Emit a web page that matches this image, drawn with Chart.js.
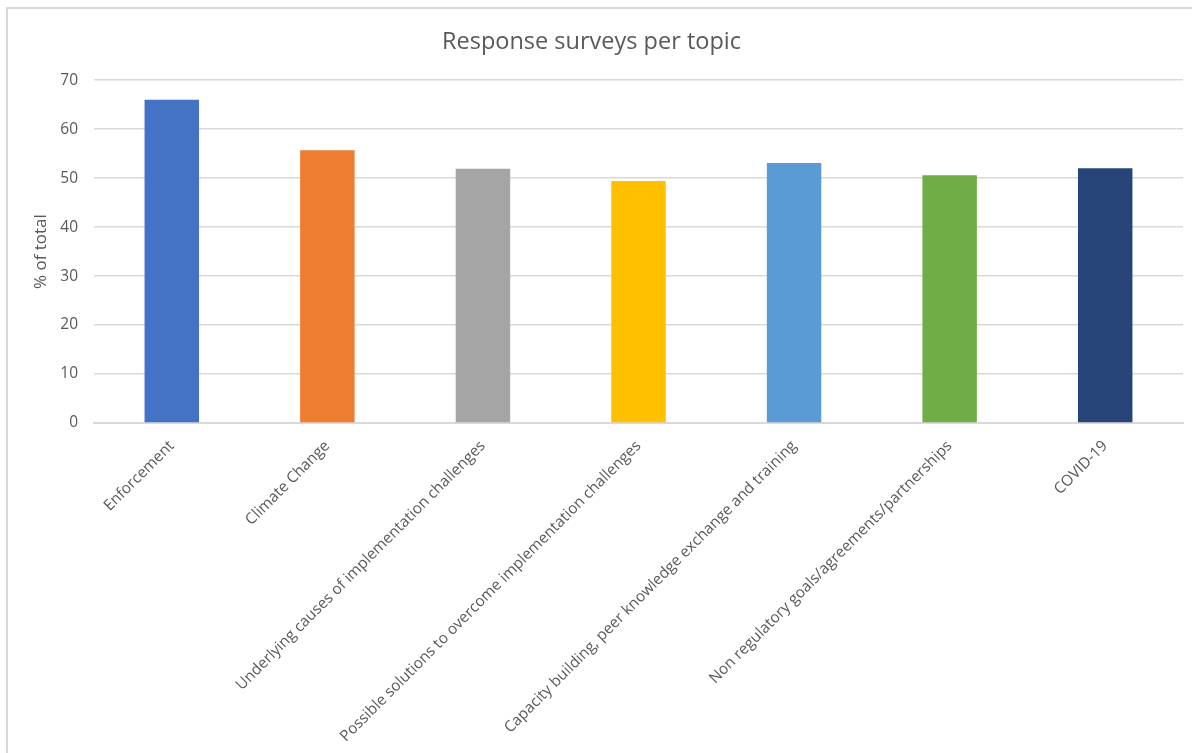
<!DOCTYPE html>
<html>
<head>
<meta charset="utf-8">
<script src="https://cdn.jsdelivr.net/npm/chart.js@4"></script>
<style>
  html, body { margin: 0; padding: 0; background: #ffffff; }
  #wrap { position: relative; width: 1192px; height: 753px; overflow: hidden; }
  #frame { position: absolute; left: 6px; top: 7px; width: 1300px; height: 900px;
           border-left: 2px solid #d9d9d9; border-top: 2px solid #d9d9d9; box-sizing: border-box; }
  canvas { position: absolute; left: 0; top: 0; }
</style>
</head>
<body>
<div id="wrap">
  <div id="frame"></div>
  <canvas id="chart" width="1192" height="753"></canvas>
</div>
<script>
// Survey topics and share of responses (% of total)
const topics = [
  "Enforcement",
  "Climate Change",
  "Underlying causes of implementation challenges",
  "Possible solutions to overcome implementation challenges",
  "Capacity building, peer knowledge exchange and training",
  "Non regulatory goals/agreements/partnerships",
  "COVID-19"
];
const shares = [66.0, 55.7, 51.9, 49.4, 53.1, 50.6, 52.0];
const barColors = ["#4472C4", "#ED7D31", "#A5A5A5", "#FFC000", "#5B9BD5", "#70AD47", "#264478"];
const yTicks = [0, 10, 20, 30, 40, 50, 60, 70];

const textColor = "#595959";
const gridColor = "#d9d9d9";
const fontFamily = "'Open Sans', 'Liberation Sans', sans-serif";

new Chart(document.getElementById("chart"), {
  type: "bar",
  data: {
    labels: topics,
    datasets: [{
      data: shares,
      backgroundColor: barColors,
      borderWidth: 0,
      categoryPercentage: 1.0,
      barPercentage: 0.35
    }]
  },
  options: {
    responsive: false,
    animation: false,
    layout: { padding: { left: 0, right: 9, top: 0, bottom: 0 } },
    plugins: {
      legend: { display: false },
      tooltip: { enabled: false },
      title: {
        display: true,
        text: "Response surveys per topic",
        color: textColor,
        font: { family: fontFamily, size: 23.5, weight: "normal" },
        padding: { top: 28, bottom: 24 }
      }
    },
    scales: {
      x: {
        grid: { display: false, drawTicks: false },
        border: { display: true, color: gridColor, width: 2 },
        ticks: {
          color: textColor,
          font: { family: fontFamily, size: 15.3 },
          minRotation: 45,
          maxRotation: 45,
          autoSkip: false,
          padding: 14
        },
        afterFit: (scale) => { scale.height = 330; }
      },
      y: {
        min: 0,
        max: 70,
        afterBuildTicks: (scale) => { scale.ticks = yTicks.map(v => ({ value: v })); },
        grid: { color: gridColor, lineWidth: 1.5, drawTicks: false },
        border: { display: false },
        ticks: {
          color: textColor,
          font: { family: fontFamily, size: 15.5 },
          padding: 16
        },
        title: {
          display: true,
          text: "% of total",
          color: textColor,
          font: { family: fontFamily, size: 17 },
          padding: { top: 31, bottom: 0 }
        },
        afterFit: (scale) => { scale.width = 94; }
      }
    }
  }
});
</script>
</body>
</html>
